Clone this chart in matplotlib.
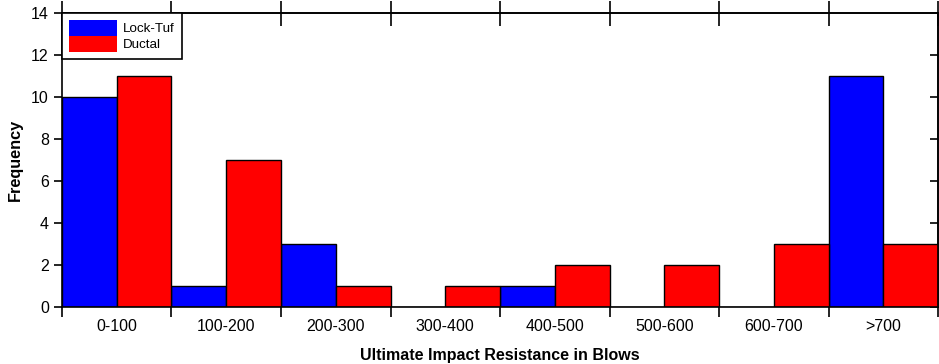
import matplotlib.pyplot as plt
import numpy as np

plt.rcParams['font.family'] = ['Liberation Sans', 'DejaVu Sans']

# data
categories = ['0-100', '100-200', '200-300', '300-400', '400-500', '500-600', '600-700', '>700']
lock_tuf = [10, 1, 3, 0, 1, 0, 0, 11]
ductal = [11, 7, 1, 1, 2, 2, 3, 3]

fig = plt.figure(figsize=(9.39, 3.64), dpi=100)
ax = fig.add_axes([0.066, 0.157, 0.933, 0.8077])

x = np.arange(len(categories))
ax.bar(x + 0.25, lock_tuf, width=0.5, color='#0000ff', edgecolor='black', linewidth=1, label='Lock-Tuf')
ax.bar(x + 0.75, ductal, width=0.5, color='#ff0000', edgecolor='black', linewidth=1, label='Ductal')

ax.set_xlim(0, len(categories))
ax.set_ylim(0, 14)

# bottom ticks at boundaries, labels at centres
ax.set_xticks(np.arange(len(categories) + 1))
ax.set_xticklabels([])
ax.set_xticks(x + 0.5, minor=True)
ax.set_xticklabels(categories, minor=True, fontsize=11.5)
ax.tick_params(axis='x', which='minor', length=0, pad=9)
ax.tick_params(axis='x', which='major', direction='out', length=7, width=1.2)
ax.set_yticks(range(0, 15, 2))
ax.tick_params(axis='y', direction='out', length=6, width=1.2, labelsize=11.5)

top = ax.secondary_xaxis('top')
top.set_xticks(np.arange(len(categories) + 1))
top.set_xticklabels([])
top.tick_params(direction='inout', length=18, width=1.2)

right = ax.secondary_yaxis('right')
right.set_yticks(range(0, 15, 2))
right.set_yticklabels([])
right.tick_params(direction='in', length=6, width=1.2)

for s in ax.spines.values():
    s.set_linewidth(1.2)
for s in top.spines.values():
    s.set_linewidth(1.2)
for s in right.spines.values():
    s.set_linewidth(1.2)

ax.set_xlabel('Ultimate Impact Resistance in Blows', fontweight='bold', fontsize=11.5, labelpad=10)
ax.set_ylabel('Frequency', fontweight='bold', fontsize=11.7, labelpad=6)

leg = ax.legend(loc='upper left', borderaxespad=0, fontsize=9.6, labelspacing=0,
                handlelength=3.6, handleheight=1.5, handletextpad=0.5, borderpad=0.5,
                fancybox=False, edgecolor='black', framealpha=1)
leg.get_frame().set_linewidth(1.2)
for h in leg.legend_handles:
    h.set_linewidth(0)

fig.savefig('out.png', dpi=100)
